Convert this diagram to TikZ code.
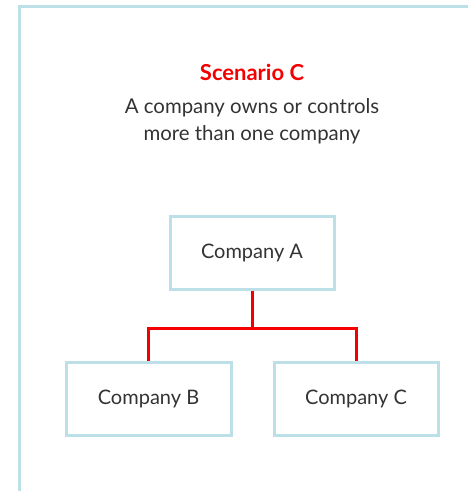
\documentclass[tikz,border=0pt]{standalone}
\usepackage{fontspec}
\setmainfont{Lato}
\definecolor{frameblue}{HTML}{BCE0E8}
\definecolor{vred}{HTML}{F50000}
\definecolor{txt}{HTML}{333333}
\begin{document}
\begin{tikzpicture}[x=1pt,y=-1pt,
  company/.style={draw=frameblue,line width=3pt,minimum width=164pt,minimum height=73pt,inner sep=0pt,text=txt,font=\fontsize{20}{24}\selectfont},
  link/.style={draw=vred,line width=3pt}]
\useasboundingbox (0,0) rectangle (468,491);
\draw[frameblue,line width=3pt] (19.5,492) coordinate (fb) -- (19.5,6.5) coordinate (fc) -- (470,6.5) coordinate (fr);
\node[text=vred,font=\bfseries\fontsize{22}{26}\selectfont] (title) at (252,72) {Scenario C};
\node[text=txt,font=\fontsize{20.4}{27}\selectfont,align=center] (sub) at (252,121) {A company owns or controls\\more than one company};
\node[company] (A) at (252,253) {Company A};
\node[company,minimum width=165pt] (B) at (148.5,399) {Company B};
\node[company] (C) at (356,399) {Company C};
\coordinate (j) at (252,328);
\draw[link] (A.south) -- (j);
\draw[link] (B.north) -- (B.north |- j) -- (C.north |- j) -- (C.north);
\end{tikzpicture}
\end{document}
